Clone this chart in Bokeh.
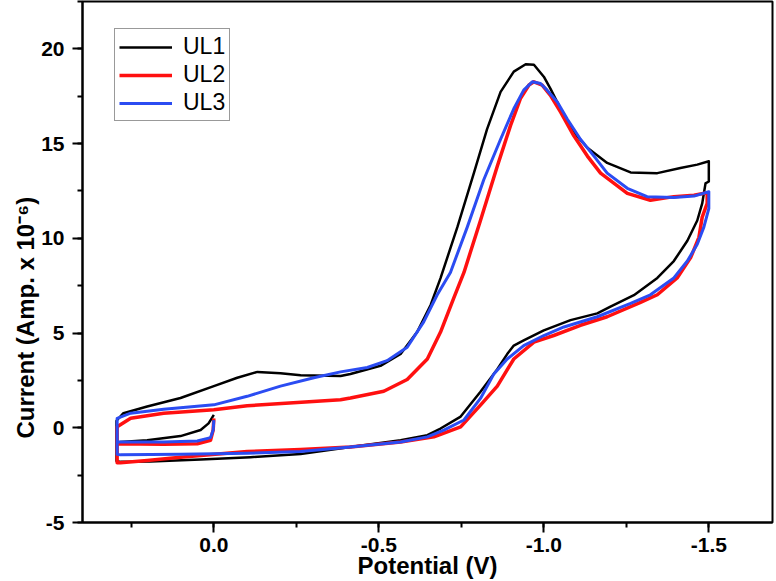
from bokeh.plotting import figure
from bokeh.models import Range1d, SingleIntervalTicker, PrintfTickFormatter, Legend, LegendItem, Title
from bokeh.embed import file_html
from bokeh.resources import INLINE

# ---- data (Potential in V, Current in Amp x 1e-6) ----
ul1_v = [0.0, 0.016, 0.040, 0.101, 0.202, 0.283, 0.295,
         0.295, 0.274, 0.202, 0.101, 0.0, -0.071, -0.132, -0.202, -0.263, -0.384,
         -0.414, -0.505, -0.566, -0.616, -0.657, -0.687, -0.738, -0.788, -0.828, -0.869,
         -0.909, -0.945, -0.970, -1.0, -1.020, -1.061, -1.091, -1.132, -1.192, -1.263,
         -1.344, -1.414, -1.465, -1.5,
         -1.5, -1.49, -1.48, -1.465, -1.435, -1.394, -1.344, -1.273, -1.202, -1.162,
         -1.081, -1.0, -0.939, -0.909, -0.889, -0.859, -0.808, -0.748, -0.687, -0.647,
         -0.566, -0.414, -0.263, -0.111, 0.040, 0.192, 0.283, 0.295, 0.295]
ul1_i = [0.68, 0.23, -0.12, -0.44, -0.66, -0.75, -0.84,
         0.37, 0.77, 1.12, 1.57, 2.2, 2.64, 2.95, 2.88, 2.77, 2.73,
         2.84, 3.27, 3.9, 5.05, 6.48, 7.9, 10.59, 13.44, 15.76, 17.73,
         18.8, 19.19, 19.16, 18.53, 17.9, 16.48, 15.59, 14.78, 13.98, 13.48,
         13.44, 13.71, 13.89, 14.07,
         13.0, 12.9, 11.84, 10.94, 9.87, 8.8, 7.91, 7.0, 6.4, 6.04,
         5.68, 5.14, 4.61, 4.34, 3.89, 3.09, 1.9, 0.59, -0.04, -0.39,
         -0.66, -1.02, -1.38, -1.55, -1.68, -1.78, -1.8, -1.75, -0.84]

ul2_v = [0.0, 0.002, 0.010, 0.050, 0.152, 0.293,
         0.293, 0.252, 0.152, 0.0, -0.101, -0.253, -0.384, -0.414, -0.515, -0.586,
         -0.647, -0.687, -0.727, -0.758, -0.808, -0.859, -0.899, -0.929, -0.955, -0.970,
         -0.995, -1.020, -1.051, -1.091, -1.132, -1.172, -1.253, -1.323, -1.394, -1.455,
         -1.495,
         -1.495, -1.480, -1.470, -1.445, -1.404, -1.344, -1.293, -1.192, -1.111, -1.030,
         -0.970, -0.909, -0.859, -0.808, -0.748, -0.667, -0.566, -0.414, -0.263, -0.101,
         0.101, 0.202, 0.283, 0.293, 0.293]
ul2_i = [0.5, -0.12, -0.66, -0.84, -0.87, -0.84,
         0.05, 0.5, 0.77, 0.95, 1.16, 1.34, 1.48, 1.57, 1.93, 2.55,
         3.63, 5.05, 6.84, 8.2, 10.94, 13.8, 15.95, 17.37, 18.09, 18.26,
         18.09, 17.55, 16.66, 15.41, 14.34, 13.44, 12.37, 12.01, 12.2, 12.28,
         12.41,
         11.84, 11.12, 10.05, 8.98, 7.91, 7.02, 6.62, 5.86, 5.41, 4.87,
         4.52, 3.63, 2.2, 1.2, 0.05, -0.48, -0.75, -1.02, -1.15, -1.25,
         -1.55, -1.73, -1.85, -1.85, -0.84]

ul3_v = [0.0, 0.002, 0.010, 0.050, 0.152, 0.293,
         0.293, 0.252, 0.152, 0.0, -0.101, -0.202, -0.303, -0.384, -0.465, -0.525,
         -0.586, -0.636, -0.677, -0.717, -0.768, -0.818, -0.869, -0.909, -0.939, -0.965,
         -0.990, -1.010, -1.041, -1.071, -1.111, -1.152, -1.192, -1.253, -1.313, -1.394,
         -1.455, -1.5,
         -1.5, -1.485, -1.465, -1.435, -1.394, -1.323, -1.263, -1.162, -1.061, -1.0,
         -0.939, -0.889, -0.848, -0.808, -0.758, -0.697, -0.647, -0.566, -0.414, -0.263,
         -0.101, 0.101, 0.283, 0.293, 0.293]
ul3_i = [0.4, -0.12, -0.52, -0.70, -0.75, -0.75,
         0.5, 0.77, 0.98, 1.21, 1.66, 2.2, 2.64, 2.95, 3.18, 3.54,
         4.25, 5.59, 7.02, 8.2, 10.59, 13.09, 15.23, 16.84, 17.82, 18.26,
         18.17, 17.82, 17.19, 16.3, 15.23, 14.34, 13.44, 12.64, 12.2, 12.16,
         12.23, 12.46,
         11.57, 10.59, 9.69, 8.8, 7.91, 7.02, 6.57, 5.86, 5.32, 4.87,
         4.34, 3.63, 2.82, 1.55, 0.41, -0.12, -0.48, -0.75, -1.02, -1.25,
         -1.35, -1.4, -1.43, -1.4, -0.75]

series_names = ["UL1", "UL2", "UL3"]
x_ticks_interval = 0.5
y_ticks_interval = 5

FONT = "Liberation Sans"
C_BLACK = "#000000"
C_RED = "#ff1010"
C_BLUE = "#2b4cf2"

p = figure(width=776, height=581, output_backend="svg", toolbar_location=None,
           x_range=Range1d(0.398, -1.693), y_range=Range1d(-5, 22.5),
           min_border_left=82, min_border_right=4, min_border_top=1, min_border_bottom=0,
           x_axis_label="Potential (V)")

p.xgrid.visible = False
p.ygrid.visible = False
p.outline_line_color = "black"
p.outline_line_width = 2
p.outline_line_alpha = 1.0

p.xaxis.ticker = SingleIntervalTicker(interval=x_ticks_interval, num_minor_ticks=2)
p.yaxis.ticker = SingleIntervalTicker(interval=y_ticks_interval, num_minor_ticks=2)
p.xaxis.formatter = PrintfTickFormatter(format="%.1f")
p.yaxis.formatter = PrintfTickFormatter(format="%d")

for ax in (p.xaxis[0], p.yaxis[0]):
    ax.axis_line_width = 2
    ax.axis_line_color = "black"
    ax.major_tick_line_width = 2
    ax.minor_tick_line_width = 2
    ax.major_tick_in = 0
    ax.major_tick_out = 10
    ax.minor_tick_in = 0
    ax.minor_tick_out = 5
    ax.major_label_text_font = FONT
    ax.major_label_text_font_style = "bold"
    ax.major_label_text_font_size = "21px"
    ax.major_label_text_color = "black"
    ax.axis_label_text_font = FONT
    ax.axis_label_text_font_style = "bold"
    ax.axis_label_text_font_size = "24px"
    ax.axis_label_text_color = "black"
p.xaxis.major_label_standoff = 5
p.xaxis.axis_label_standoff = -3
p.yaxis.major_label_standoff = 8

# y-axis title placed as a side title so it can sit lower, as in the reference
ytitle = Title(text="Current (Amp. x 10\u207b\u2076)", align="left", offset=84,
               standoff=0, text_font=FONT, text_font_style="bold",
               text_font_size="24px", text_color="black")
p.add_layout(ytitle, "left")

r1 = p.line(ul1_v, ul1_i, line_color=C_BLACK, line_width=2.5, line_join="round")
r2 = p.line(ul2_v, ul2_i, line_color=C_RED, line_width=3.5, line_join="round")
r3 = p.line(ul3_v, ul3_i, line_color=C_BLUE, line_width=3, line_join="round")

legend = Legend(items=[LegendItem(label=series_names[0], renderers=[r1]),
                       LegendItem(label=series_names[1], renderers=[r2]),
                       LegendItem(label=series_names[2], renderers=[r3])],
                location=(32, 401))
legend.margin = 0
legend.padding = 4
legend.spacing = 1
legend.glyph_width = 53
legend.glyph_height = 20
legend.label_standoff = 11
legend.label_text_font = FONT
legend.label_text_font_size = "23px"
legend.label_text_color = "black"
legend.border_line_color = "#333333"
legend.border_line_width = 1
legend.background_fill_alpha = 1.0
p.add_layout(legend)

open("out.html", "w").write(file_html(p, INLINE))
